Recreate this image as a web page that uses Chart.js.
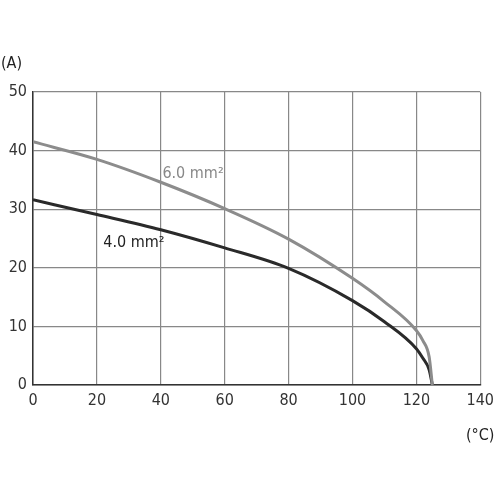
<!DOCTYPE html>
<html><head><meta charset="utf-8">
<script src="https://cdn.jsdelivr.net/npm/chart.js@4/dist/chart.umd.min.js"></script>
<style>html,body{margin:0;background:#fff}#c{width:500px;height:500px}</style>
</head><body><div id="c"><canvas id="cv" width="500" height="500"></canvas></div>
<script>
// Derating curves: current (A) vs ambient temperature (°C)
const tempX   = [0, 20, 40, 60, 80, 100, 110, 120, 122, 124, 125];
const amps60  = [41.5, 38.5, 34.6, 30.1, 24.9, 18.2, 14.2, 9.3, 7.6, 4.8, 0];
const amps40  = [31.6, 29.1, 26.5, 23.4, 19.9, 14.4, 10.8, 6.2, 4.6, 2.6, 0];
const xTicks  = [0, 20, 40, 60, 80, 100, 120, 140];
const yTicks  = [0, 10, 20, 30, 40, 50];

const FONT = "'DejaVu Sans Condensed','Liberation Sans',sans-serif";
const pts = (ys) => tempX.map((x, i) => ({ x, y: ys[i] }));

const labelsPlugin = {
    id: 'labels',
    afterDraw(chart) {
        const { ctx, scales: { x, y } } = chart;
        ctx.save();
        ctx.font = '16px ' + FONT;
        ctx.textBaseline = 'middle';
        ctx.fillStyle = '#888';
        ctx.fillText('6.0 mm²', x.getPixelForValue(40.5), y.getPixelForValue(36));
        ctx.fillStyle = '#222';
        ctx.fillText('4.0 mm²', x.getPixelForValue(22), y.getPixelForValue(24.3));
        ctx.fillStyle = '#222';
        ctx.fillText('(A)', 1, 64);
        ctx.fillText('(°C)', 466, 436);
        ctx.restore();
    }
};

new Chart(document.getElementById('cv'), {
    type: 'scatter',
    data: { datasets: [
        { data: pts(amps60), showLine: true, borderColor: '#8c8c8c', borderWidth: 3,
          pointRadius: 0, cubicInterpolationMode: 'monotone' },
        { data: pts(amps40), showLine: true, borderColor: '#2a2a2a', borderWidth: 3,
          pointRadius: 0, cubicInterpolationMode: 'monotone' }
    ]},
    options: {
        responsive: false, animation: false,
        layout: { padding: { top: 92, right: 16 } },
        plugins: { legend: { display: false }, tooltip: { enabled: false } },
        scales: {
            x: { type: 'linear', min: 0, max: 140,
                 afterBuildTicks: s => { s.ticks = xTicks.map(v => ({ value: v })); },
                 afterFit: s => { s.height = 115; },
                 grid: { color: '#888', lineWidth: 1.2, drawTicks: false },
                 border: { color: '#333', width: 1.5 },
                 ticks: { color: '#333', padding: 6, font: { family: FONT, size: 16 } } },
            y: { min: 0, max: 50,
                 afterBuildTicks: s => { s.ticks = yTicks.map(v => ({ value: v })); },
                 afterFit: s => { s.width = 33; },
                 grid: { color: '#888', lineWidth: 1.2, drawTicks: false },
                 border: { color: '#333', width: 1.5 },
                 ticks: { color: '#333', padding: 6, font: { family: FONT, size: 16 } } }
        }
    },
    plugins: [labelsPlugin]
});
</script></body></html>
